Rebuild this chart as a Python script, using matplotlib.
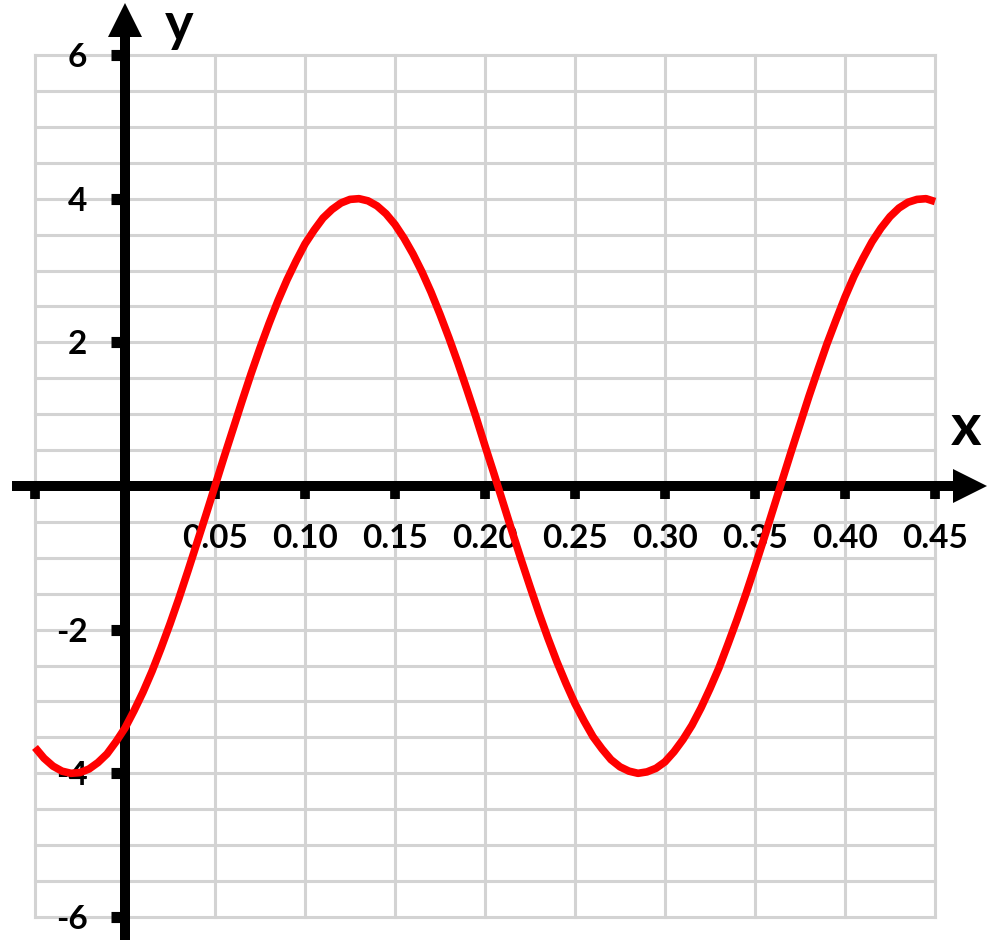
import numpy as np
import matplotlib
matplotlib.use("Agg")
import matplotlib.pyplot as plt

plt.rcParams['font.family'] = ['Lato', 'DejaVu Sans']

# curve values, every 0.005 on x
x_vals = [-0.050, -0.045, -0.040, -0.035, -0.030, -0.025, -0.020, -0.015, -0.010, -0.005,
          0.000, 0.005, 0.010, 0.015, 0.020, 0.025, 0.030, 0.035, 0.040, 0.045,
          0.050, 0.055, 0.060, 0.065, 0.070, 0.075, 0.080, 0.085, 0.090, 0.095,
          0.100, 0.105, 0.110, 0.115, 0.120, 0.125, 0.130, 0.135, 0.140, 0.145,
          0.150, 0.155, 0.160, 0.165, 0.170, 0.175, 0.180, 0.185, 0.190, 0.195,
          0.200, 0.205, 0.210, 0.215, 0.220, 0.225, 0.230, 0.235, 0.240, 0.245,
          0.250, 0.255, 0.260, 0.265, 0.270, 0.275, 0.280, 0.285, 0.290, 0.295,
          0.300, 0.305, 0.310, 0.315, 0.320, 0.325, 0.330, 0.335, 0.340, 0.345,
          0.350, 0.355, 0.360, 0.365, 0.370, 0.375, 0.380, 0.385, 0.390, 0.395,
          0.400, 0.405, 0.410, 0.415, 0.420, 0.425, 0.430, 0.435, 0.440, 0.445, 0.450]
y_vals = [-3.64, -3.79, -3.90, -3.97, -4.00, -3.99, -3.94, -3.85, -3.73, -3.56,
          -3.37, -3.13, -2.87, -2.58, -2.26, -1.92, -1.56, -1.18, -0.79, -0.40,
          0.00, 0.40, 0.79, 1.18, 1.56, 1.92, 2.26, 2.58, 2.87, 3.13,
          3.37, 3.56, 3.73, 3.85, 3.94, 3.99, 4.00, 3.97, 3.90, 3.79,
          3.64, 3.45, 3.23, 2.98, 2.70, 2.39, 2.06, 1.71, 1.34, 0.96,
          0.56, 0.17, -0.23, -0.63, -1.02, -1.40, -1.77, -2.12, -2.45, -2.75,
          -3.03, -3.27, -3.49, -3.66, -3.81, -3.91, -3.97, -4.00, -3.98, -3.93,
          -3.84, -3.70, -3.53, -3.33, -3.09, -2.82, -2.53, -2.20, -1.86, -1.50,
          -1.12, -0.73, -0.33, 0.07, 0.47, 0.86, 1.25, 1.62, 1.98, 2.31,
          2.63, 2.92, 3.17, 3.40, 3.59, 3.75, 3.87, 3.95, 3.99, 4.00, 3.96]

x_ticks = [-0.05, 0.05, 0.10, 0.15, 0.20, 0.25, 0.30, 0.35, 0.40, 0.45]
x_labels = ['', '0.05', '0.10', '0.15', '0.20', '0.25', '0.30', '0.35', '0.40', '0.45']
y_ticks = [-6, -4, -2, 2, 4, 6]
y_labels = ['-6', '-4', '-2', '2', '4', '6']

x_grid = np.arange(-0.05, 0.451, 0.05)
y_grid = np.arange(-6, 6.01, 0.5)

fig = plt.figure(figsize=(10, 9.48), dpi=100)
ax = fig.add_axes([0, 0, 1, 1])
ax.set_xlim(-0.06944, 0.48611)
ax.set_ylim(-6.432, 6.766)

# light grid, bounded to the plotting box
ax.vlines(x_grid, -6, 6, color='#d3d3d3', lw=2.2, zorder=1, capstyle='projecting')
ax.hlines(y_grid, -0.05, 0.45, color='#d3d3d3', lw=2.2, zorder=1, capstyle='projecting')

# axes through the origin
for side in ['top', 'right']:
    ax.spines[side].set_visible(False)
ax.spines['left'].set_position(('data', 0))
ax.spines['bottom'].set_position(('data', 0))
ax.spines['left'].set_linewidth(7.2)
ax.spines['bottom'].set_linewidth(7.2)
ax.spines['left'].set_bounds(-6.25, 6.4)
ax.spines['bottom'].set_bounds(-0.06, 0.465)
ax.spines['left'].set_zorder(2)
ax.spines['bottom'].set_zorder(2)

# arrow heads
ax.plot(0, 6.49, marker='^', markersize=24.5, color='black', mew=0, zorder=2, clip_on=False)
ax.plot(0.4694, 0, marker='>', markersize=24.5, color='black', mew=0, zorder=2, clip_on=False)

ax.set_xticks(x_ticks, x_labels, fontweight='bold')
ax.set_yticks(y_ticks, y_labels, fontweight='bold')
ax.tick_params(axis='x', direction='out', length=9.4, width=7, pad=18, labelsize=24)
ax.tick_params(axis='y', direction='out', length=10, width=8, pad=17, labelsize=24)

# the curve
ax.plot(x_vals, y_vals, color='#ff0000', lw=5.5, solid_capstyle='butt',
        solid_joinstyle='round', zorder=4)

ax.text(0.467, 0.57, 'x', fontsize=42, fontweight='bold', ha='center', va='baseline')
ax.text(0.03, 6.195, 'y', fontsize=39, fontweight='bold', ha='center', va='baseline')

fig.savefig('out.png', dpi=100)
